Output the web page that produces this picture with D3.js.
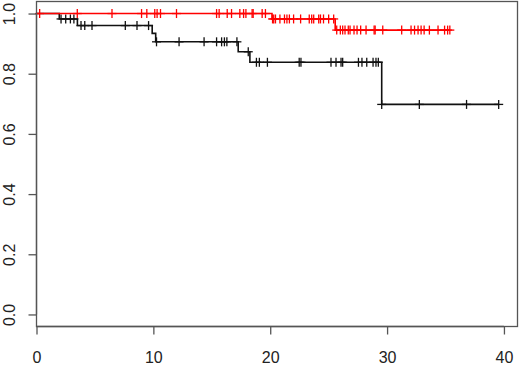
<!DOCTYPE html>
<html>
<head>
<meta charset="utf-8">
<script src="https://cdn.jsdelivr.net/npm/d3@7"></script>
<style>
  body { margin: 0; background: #fff; }
  svg text { font-family: "Liberation Sans", Arial, sans-serif; fill: #222; }
</style>
</head>
<body>
<svg id="chart" width="520" height="365"></svg>
<script>
// Kaplan-Meier curves, values
const blackEventTimes = [1.95, 3.5, 9.9, 10.2, 17.26, 18.26, 29.54];
const blackSurv = [0.982, 0.96, 0.934, 0.906, 0.873, 0.838, 0.698];
const blackCensor = [2.1, 2.5, 2.9, 3.2, 3.81, 4.13, 4.75, 7.6, 8.6, 9.59,
  10.27, 12.2, 14.34, 15.41, 15.84, 16.08, 16.29, 17.15, 18.12,
  18.82, 19.07, 19.76, 22.48, 22.63, 25.2, 25.63, 26.06, 26.2, 27.55, 27.85,
  28.26, 28.8, 29.05, 29.25, 29.54, 32.76, 36.8, 39.55];

const redEventTimes = [20.15, 25.56];
const redSurv = [0.982, 0.945];
const redCensor = [0.27, 3.49, 6.46, 8.99, 9.44, 10.12, 10.32, 10.61, 11.98,
  15.41, 15.63, 16.32, 16.69, 17.4, 17.72, 17.92, 18.45, 18.54, 19.31, 19.59,
  20.2, 20.3, 20.45, 20.83, 21.22, 21.43, 21.64, 22.0, 22.6, 23.34, 23.55,
  23.72, 24.15, 24.3, 24.56, 25.0, 25.43, 25.69, 26.0, 26.2, 26.4, 26.68,
  26.83, 27.17, 27.43, 27.74, 28.2, 28.89, 28.98, 29.63, 31.25, 32.05, 32.35,
  32.65, 32.91, 33.17, 33.62, 34.36, 34.92, 35.18, 35.37];

const xTicks = [0, 10, 20, 30, 40];
const yTicks = [0, 0.2, 0.4, 0.6, 0.8, 1.0];

const svg = d3.select("#chart");

const x = d3.scaleLinear().domain([0, 41.16]).range([36.5, 517.5]);
const y = d3.scaleLinear().domain([-0.04, 1.04]).range([326.5, 1.5]);

// build step path points from event times
function steps(times, surv, end) {
  const pts = [[0, 1]];
  let s = 1;
  times.forEach((t, i) => {
    pts.push([t, s]);
    s = surv[i];
    pts.push([t, s]);
  });
  pts.push([end, s]);
  return pts;
}

function survAt(times, surv, t) {
  let s = 1;
  times.forEach((e, i) => { if (e <= t) s = surv[i]; });
  return s;
}

function drawCurve(times, surv, censor, color) {
  const end = d3.max(censor);
  const line = d3.line().x((d) => x(d[0])).y((d) => y(d[1]));
  svg.append("path")
    .datum(steps(times, surv, end))
    .attr("fill", "none")
    .attr("stroke", color)
    .attr("stroke-width", 1.6)
    .attr("d", line);

  // censor marks as "+"
  const g = svg.append("g").attr("stroke", color).attr("stroke-width", 1.3);
  censor.forEach((t) => {
    const cx = x(t), cy = y(survAt(times, surv, t));
    g.append("line").attr("x1", cx).attr("x2", cx).attr("y1", cy - 4.5).attr("y2", cy + 4.5);
    g.append("line").attr("x1", cx - 4.5).attr("x2", cx + 4.5).attr("y1", cy).attr("y2", cy);
  });
}

drawCurve(blackEventTimes, blackSurv, blackCensor, "#111");
drawCurve(redEventTimes, redSurv, redCensor, "#f00");

// box
svg.append("rect")
  .attr("x", 36.5).attr("y", 1.5)
  .attr("width", 481).attr("height", 325)
  .attr("fill", "none").attr("stroke", "#555").attr("stroke-width", 1.3);

// x axis
const xAxis = d3.axisBottom(x).tickValues(xTicks).tickSize(8).tickPadding(17)
  .tickFormat(d3.format("d"));
const gx = svg.append("g").attr("transform", "translate(0,326.5)").call(xAxis);
gx.select(".domain").attr("stroke", "#555").attr("stroke-width", 1.3)
  .attr("d", `M${x(0)},0H${x(40)}`);
gx.selectAll(".tick line").attr("stroke", "#555").attr("stroke-width", 1.3);
gx.selectAll(".tick text").attr("font-size", 16).attr("fill", "#222");

// y axis
const yAxis = d3.axisLeft(y).tickValues(yTicks).tickSize(8).tickFormat(d3.format(".1f"));
const gy = svg.append("g").attr("transform", "translate(36.5,0)").call(yAxis);
gy.select(".domain").attr("stroke", "#555").attr("stroke-width", 1.3)
  .attr("d", `M0,${y(0)}V${y(1)}`);
gy.selectAll(".tick line").attr("stroke", "#555").attr("stroke-width", 1.3);
gy.selectAll(".tick text")
  .attr("font-size", 16).attr("fill", "#222")
  .attr("x", null).attr("dy", null)
  .attr("text-anchor", "middle")
  .attr("transform", "translate(-21.5,0) rotate(-90)");
</script>
</body>
</html>
